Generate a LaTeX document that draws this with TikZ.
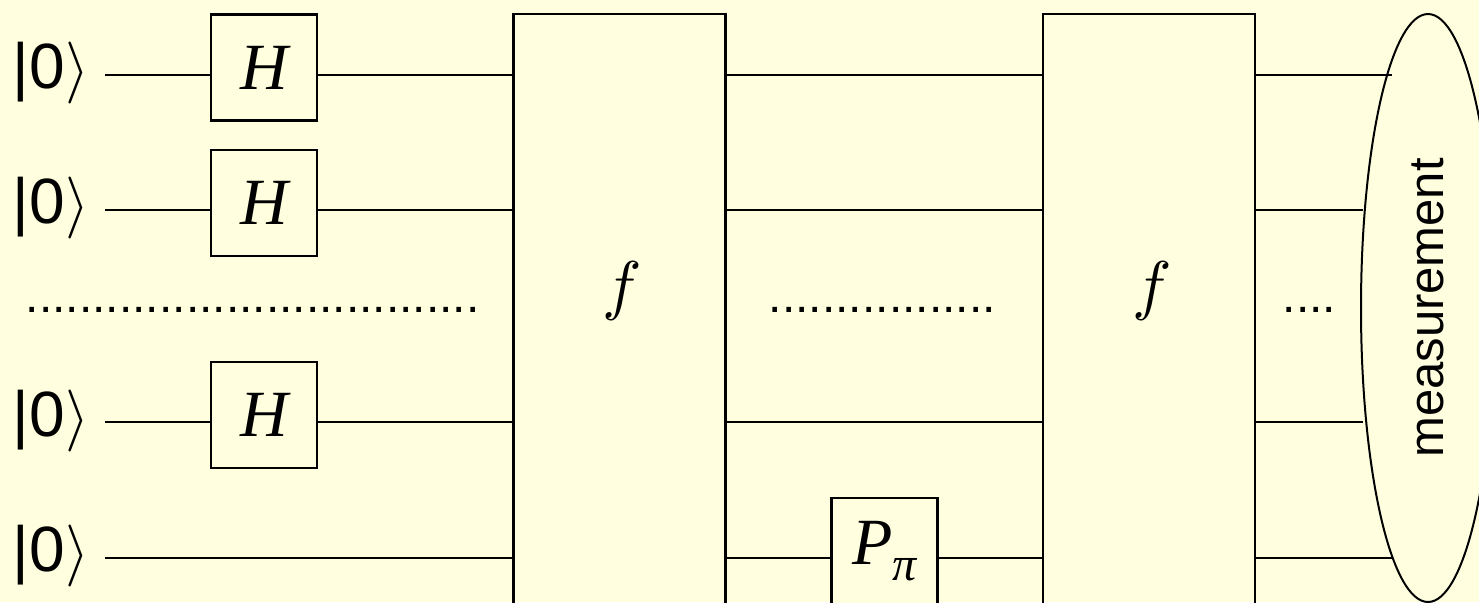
\documentclass[tikz,border=0pt]{standalone}
\usepackage{fontspec}
\setmainfont{Liberation Serif}
\setsansfont{Liberation Sans}
\usetikzlibrary{shapes.geometric}
\definecolor{bgyellow}{RGB}{255,255,224}
\newcommand{\rket}{\scalebox{3.1}{\normalsize$\rangle$}}
\newcommand{\ffun}{\scalebox{3.3}{\normalsize$f$}}
\tikzset{
  ket/.style={anchor=base west, inner sep=0pt, font=\sffamily\fontsize{32}{32}\selectfont},
  gate/.style={draw, line width=1.2pt, fill=bgyellow, inner sep=0pt, minimum size=53pt,
    font=\itshape\fontsize{33}{33}\selectfont},
  oracle/.style={draw, line width=1.1pt, inner sep=0pt, minimum width=106pt, minimum height=320pt},
  gatetxt/.style={inner sep=0pt},
  dotrow/.style={anchor=base west, inner sep=0pt, font=\sffamily\fontsize{24}{24}\selectfont},
  wire/.style={line width=1pt}
}
\begin{document}
\begin{tikzpicture}[x=0.5pt, y=-0.5pt]
  \fill[bgyellow] (0,0) rectangle (1479,602);
  \useasboundingbox (0,0) rectangle (1479,602);
  \clip (0,0) rectangle (1479,602);
  % inputs
  \node[ket] (in1) at (12.5,88) {|0\rket};
  \node[ket] (in2) at (12.5,223) {|0\rket};
  \node[ket] (in3) at (12.5,436) {|0\rket};
  \node[ket] (in4) at (12.5,571) {|0\rket};
  \coordinate (s1) at (105,75);
  \coordinate (s2) at (105,210);
  \coordinate (s3) at (105,422);
  \coordinate (s4) at (105,558);
  % gates
  \node[gate] (hone) at (264,67.5) {H};
  \node[gate] (htwo) at (264,203) {H};
  \node[gate] (hthree) at (264,415) {H};
  \node[oracle] (fone) at (619.5,334) {};
  \node[oracle] (ftwo) at (1149,334) {};
  \node[gatetxt] (fonetxt) at (622,291) {\ffun};
  \node[gatetxt] (ftwotxt) at (1152,291) {\ffun};
  \node[gate] (pshift) at (884.5,551) {P\raisebox{-8pt}{\fontsize{24}{24}\selectfont π}};
  % measurement
  \node[draw, ellipse, line width=1pt, rotate=90, inner sep=0pt, minimum width=294pt,
    minimum height=67pt, font=\sffamily\fontsize{24.5}{24.5}\selectfont] (meas) at (1428,308) {measurement};
  \coordinate (e1) at (1392,75);
  \coordinate (e2) at (1363,210);
  \coordinate (e3) at (1363,422);
  \coordinate (e4) at (1392,558);
  % wires
  \draw[wire] (s1) -- (hone.west |- s1) (hone.east |- s1) -- (fone.west |- s1)
    (fone.east |- s1) -- (ftwo.west |- s1) (ftwo.east |- s1) -- (e1);
  \draw[wire] (s2) -- (htwo.west |- s2) (htwo.east |- s2) -- (fone.west |- s2)
    (fone.east |- s2) -- (ftwo.west |- s2) (ftwo.east |- s2) -- (e2);
  \draw[wire] (s3) -- (hthree.west |- s3) (hthree.east |- s3) -- (fone.west |- s3)
    (fone.east |- s3) -- (ftwo.west |- s3) (ftwo.east |- s3) -- (e3);
  \draw[wire] (s4) -- (fone.west |- s4) (fone.east |- s4) -- (pshift.west |- s4)
    (pshift.east |- s4) -- (ftwo.west |- s4) (ftwo.east |- s4) -- (e4);
  % dots
  \node[dotrow] (dotsa) at (25.5,312) {..................................};
  \node[dotrow] (dotsb) at (768.5,312) {.................};
  \node[dotrow] (dotsc) at (1282.5,312) {....};
\end{tikzpicture}
\end{document}
